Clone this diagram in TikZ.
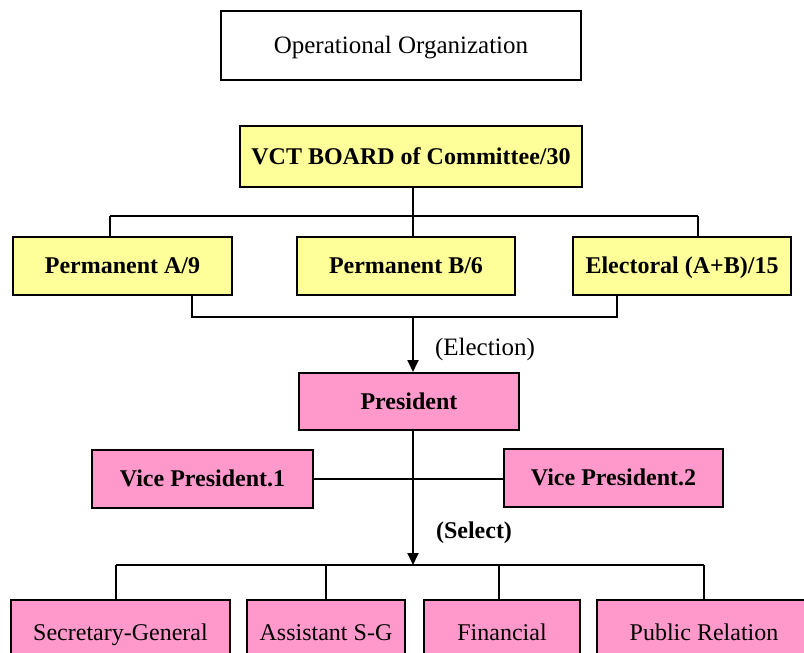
\documentclass[tikz,border=0pt]{standalone}
\usepackage{fontspec}
\setmainfont{Liberation Serif}
\usetikzlibrary{arrows.meta}
\definecolor{boxyellow}{HTML}{FFFF99}
\definecolor{boxpink}{HTML}{FF99CC}
\tikzset{
  base/.style={draw=black, line width=2pt, inner sep=0pt, align=center, anchor=center, text height=17pt, text depth=2pt},
  titlebox/.style={base, fill=white, line width=2.4pt, font=\fontsize{25}{28}\selectfont},
  ybox/.style={base, fill=boxyellow, font=\fontsize{24}{27}\selectfont\bfseries},
  pbox/.style={base, fill=boxpink, font=\fontsize{24}{27}\selectfont\bfseries},
  pboxr/.style={base, fill=boxpink, font=\fontsize{24}{27}\selectfont},
  conn/.style={draw=black, line width=1.8pt},
  arr/.style={conn, -{Triangle[length=12pt,width=11pt]}},
  lbl/.style={inner sep=0pt, anchor=center}
}
\begin{document}
\begin{tikzpicture}[x=1pt, y=-1pt]
\clip (0,0) rectangle (804,653);
\fill[white] (0,0) rectangle (804,653);

% nodes
\node[titlebox, minimum width=360pt, minimum height=69pt] (title) at (401,45.5) {Operational Organization};
\node[ybox, minimum width=342pt, minimum height=61pt] (vct) at (411,156.5) {VCT BOARD of Committee/30};
\node[ybox, minimum width=219pt, minimum height=58pt] (permA) at (122.5,265.5) {Permanent A/9};
\node[ybox, minimum width=218pt, minimum height=58pt] (permB) at (406,265.5) {Permanent B/6};
\node[ybox, minimum width=218pt, minimum height=58pt] (elect) at (682,265.5) {Electoral (A+B)/15};
\node[pbox, minimum width=220pt, minimum height=57pt] (pres) at (409,401.5) {President};
\node[pbox, minimum width=221pt, minimum height=58pt] (vp1) at (202.5,479) {Vice President.1};
\node[pbox, minimum width=219pt, minimum height=58pt] (vp2) at (613.5,478) {Vice President.2};
\node[pboxr, minimum width=219pt, minimum height=66pt] (sg) at (120.5,633) {Secretary-General};
\node[pboxr, minimum width=158pt, minimum height=66pt] (asg) at (326,633) {Assistant S-G};
\node[pboxr, minimum width=156pt, minimum height=66pt] (fin) at (502,633) {Financial};
\node[pboxr, minimum width=214pt, minimum height=66pt] (pr) at (704,633) {Public Relation};

\node[lbl, font=\fontsize{25}{28}\selectfont] (elabel) at (485,349) {(Election)};
\node[lbl, font=\fontsize{24}{27}\selectfont\bfseries] (slabel) at (474,533) {(Select)};

% bus coordinates
\coordinate (b1L) at (110,216);
\coordinate (b1R) at (698,216);
\coordinate (eA) at (192,317);
\coordinate (eB) at (617,317);
\coordinate (mid) at (413,317);
\coordinate (c1) at (116,565);
\coordinate (c2) at (326,565);
\coordinate (c3) at (499,565);
\coordinate (c4) at (704,565);
\coordinate (cm) at (413,565);

% connectors top
\draw[conn] (vct.south -| mid) -- (permB.north -| mid);
\draw[conn] (b1L) -- (b1R);
\draw[conn] (b1L) -- (b1L |- permA.north);
\draw[conn] (b1R) -- (b1R |- elect.north);
\draw[conn] (permA.south -| eA) -- (eA) -- (eB) -- (elect.south -| eB);
\draw[arr] (mid) -- (pres.north -| mid);

% president to staff
\draw[conn] (vp1.east) -- (vp2.west |- vp1.east);
\draw[arr] (pres.south -| cm) -- (cm);
\draw[conn] (c1) -- (c4);
\draw[conn] (c1) -- (c1 |- sg.north);
\draw[conn] (c2) -- (c2 |- asg.north);
\draw[conn] (c3) -- (c3 |- fin.north);
\draw[conn] (c4) -- (c4 |- pr.north);
\end{tikzpicture}
\end{document}
